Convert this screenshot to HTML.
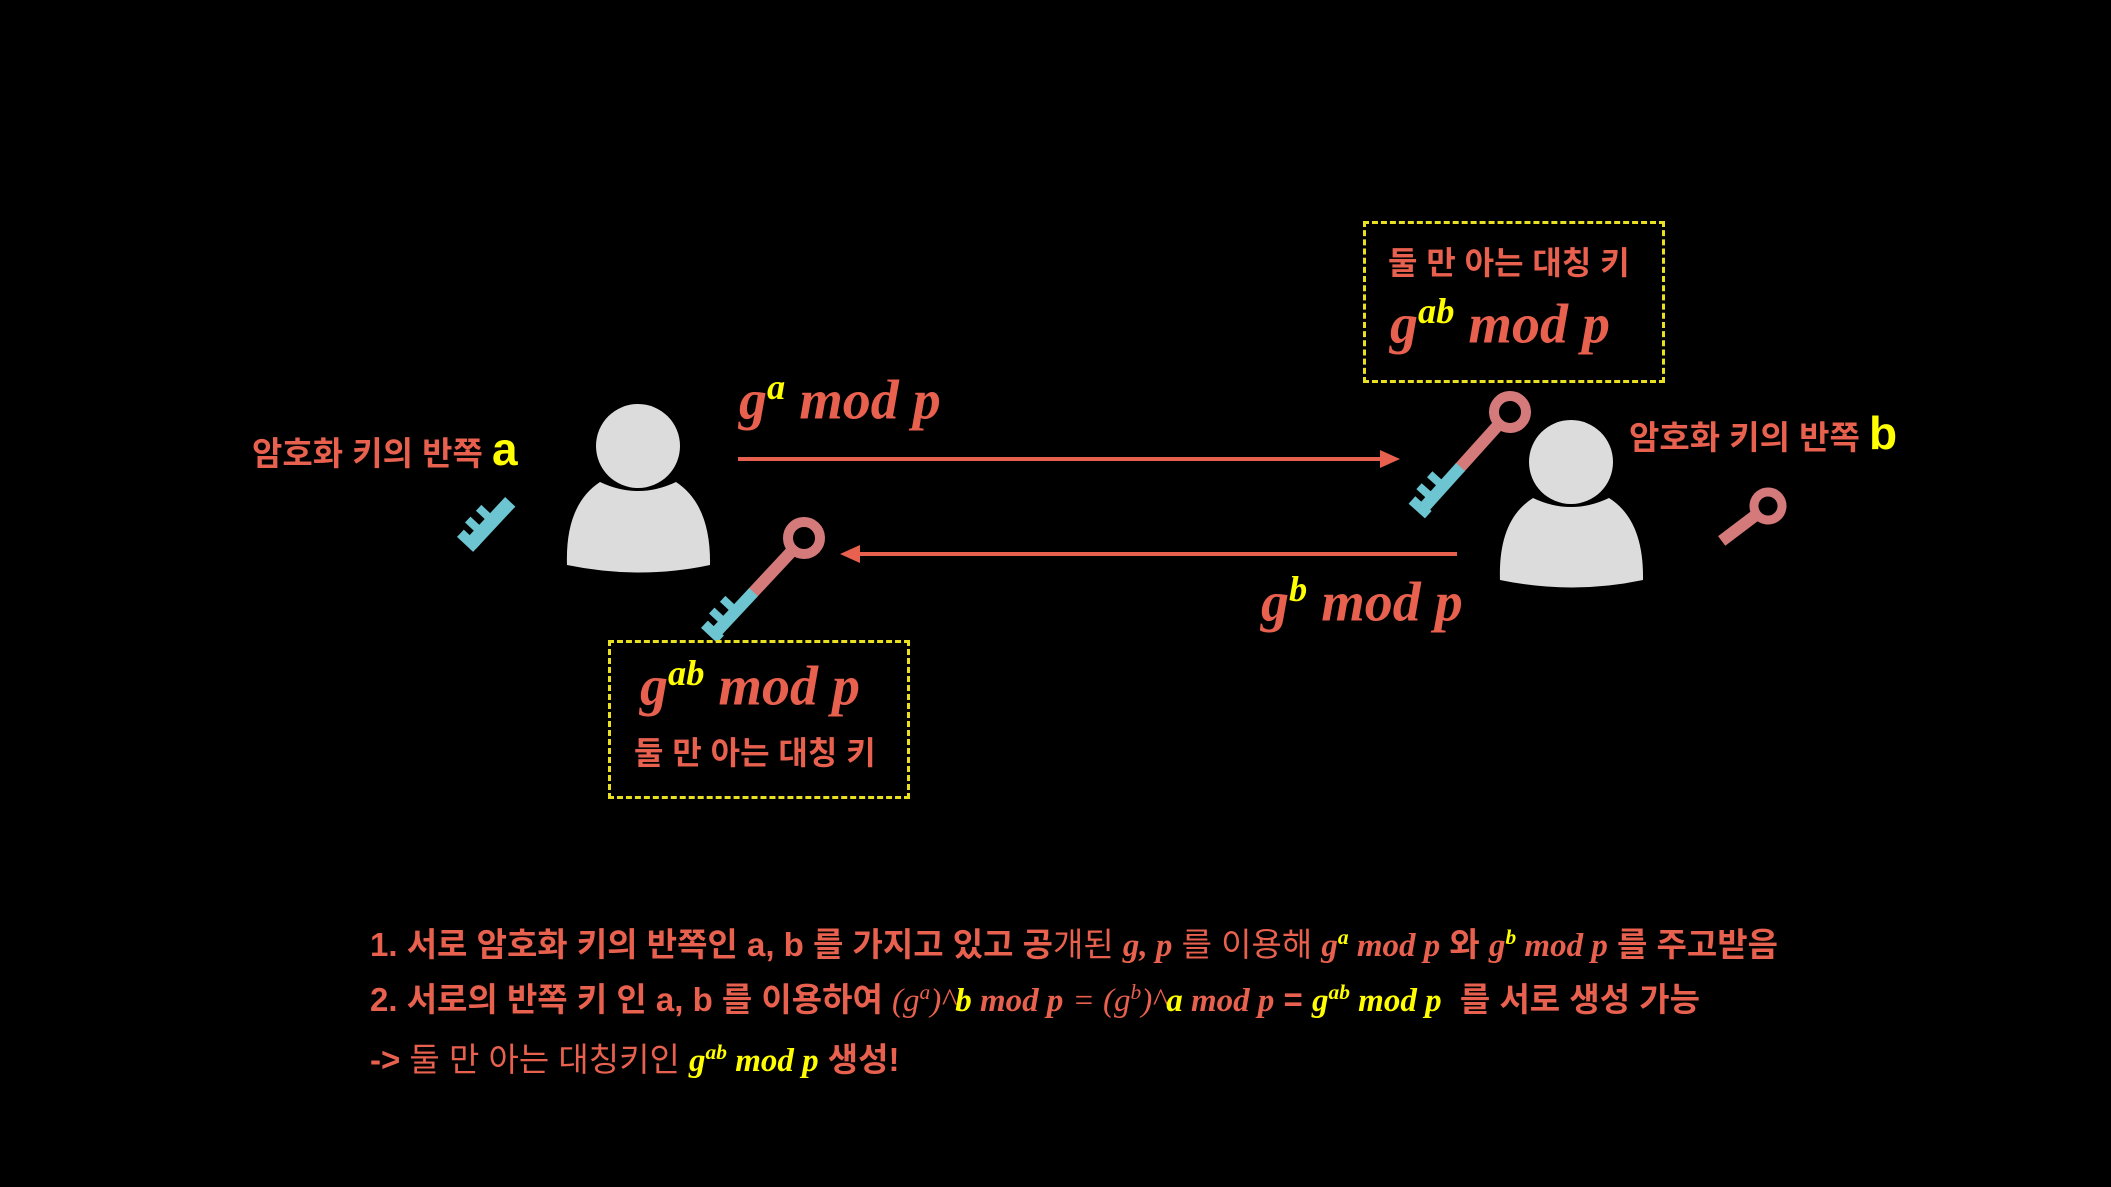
<!DOCTYPE html>
<html><head><meta charset="utf-8"><style>
body{margin:0;background:#000;width:2111px;height:1187px;overflow:hidden;position:relative;font-family:"Liberation Sans","Noto Sans CJK KR",sans-serif}
.t{position:absolute;white-space:nowrap;color:#e8604e}
.m{font-family:"Liberation Serif",serif;font-style:italic;font-weight:bold}
.y{color:#ffff00}
.k{font-weight:bold}
sup{font-size:65%}
.box{position:absolute;border:3px dashed #e8e020}
</style></head><body>
<svg width="2111" height="1187" style="position:absolute;left:0;top:0">
<defs>
<g id="key">
<circle cx="0" cy="0" r="16" fill="none" stroke="#d47a7a" stroke-width="10"/>
<rect x="14" y="-6" width="62" height="12" fill="#d47a7a"/>
<rect x="74" y="-6" width="58" height="12" fill="#6cc5d0"/>
<rect x="96" y="4" width="8" height="14" fill="#6cc5d0"/>
<rect x="112" y="4" width="8" height="14" fill="#6cc5d0"/>
<rect x="126" y="-8" width="10" height="22" fill="#6cc5d0"/>
</g>
</defs>
<circle cx="638" cy="446" r="42" fill="#dcdcdc"/>
<path d="M567 565 Q565 505 600 482 Q638 500 676 482 Q711 505 710 565 Q640 580 567 565Z" fill="#dcdcdc"/>
<circle cx="1571" cy="462" r="42" fill="#dcdcdc"/>
<path d="M1500 580 Q1498 520 1533 498 Q1571 516 1609 498 Q1644 520 1643 580 Q1572 595 1500 580Z" fill="#dcdcdc"/>
<line x1="738" y1="459" x2="1385" y2="459" stroke="#e8604e" stroke-width="4"/>
<polygon points="1400,459 1380,450 1380,468" fill="#e8604e"/>
<line x1="855" y1="554" x2="1457" y2="554" stroke="#e8604e" stroke-width="4"/>
<polygon points="840,554 860,545 860,563" fill="#e8604e"/>
<use href="#key" transform="translate(804,538) rotate(133)"/>
<use href="#key" transform="translate(1510,412) rotate(132)"/>
<g transform="translate(1768,506) rotate(143)">
<circle cx="0" cy="0" r="14" fill="none" stroke="#d47a7a" stroke-width="9"/>
<rect x="12" y="-6" width="46" height="12" fill="#d47a7a"/>
</g>
<g transform="translate(560,447) rotate(133)">
<rect x="74" y="-8" width="58" height="14" fill="#6cc5d0"/>
<rect x="96" y="4" width="8" height="14" fill="#6cc5d0"/>
<rect x="112" y="4" width="8" height="14" fill="#6cc5d0"/>
<rect x="126" y="-8" width="10" height="22" fill="#6cc5d0"/>
</g>
</svg>
<div class="box" style="left:1363px;top:221px;width:296px;height:156px"></div>
<div class="box" style="left:608px;top:640px;width:296px;height:153px"></div>
<div class="t k" style="left:1388px;top:238px;font-size:32px">둘 만 아는 대칭 키</div>
<div class="t m" style="left:1390px;top:290px;font-size:56px">g<sup class="y">ab</sup> mod p</div>
<div class="t m" style="left:640px;top:652px;font-size:56px">g<sup class="y">ab</sup> mod p</div>
<div class="t k" style="left:634px;top:728px;font-size:32px">둘 만 아는 대칭 키</div>
<div class="t m" style="left:739px;top:366px;font-size:56px">g<sup class="y">a</sup> mod p</div>
<div class="t m" style="left:1261px;top:568px;font-size:56px">g<sup class="y">b</sup> mod p</div>
<div class="t k" style="left:252px;top:422px;font-size:33px">암호화 키의 반쪽 <span class="y" style="font-size:46px">a</span></div>
<div class="t k" style="left:1629px;top:406px;font-size:33px">암호화 키의 반쪽 <span class="y" style="font-size:46px">b</span></div>
<div class="t k" style="left:370px;top:918px;font-size:33px">1. 서로 암호화 키의 반쪽인 a, b 를 가지고 있고 공<span style="font-weight:normal">개된 <span class="m">g, p</span> 를 이용해 </span><span class="m">g<sup class="y">a</sup> mod p</span> 와 <span class="m">g<sup class="y">b</sup> mod p</span> 를 주고받음</div>
<div class="t k" style="left:370px;top:973px;font-size:33px">2. 서로의 반쪽 키 인 a, b 를 이용하여 <span class="m" style="font-weight:normal">(g<sup>a</sup>)^</span><span class="m y">b</span><span class="m"> mod p</span> <span class="m" style="font-weight:normal">= (g<sup>b</sup>)^</span><span class="m y">a</span><span class="m"> mod p</span> = <span class="m y">g<sup>ab</sup> mod p</span>&nbsp; 를 서로 생성 가능</div>
<div class="t" style="left:370px;top:1033px;font-size:33px"><b>-&gt;</b> 둘 만 아는 대칭키인 <span class="m y">g<sup>ab</sup> mod p</span> <b>생성!</b></div>
</body></html>
